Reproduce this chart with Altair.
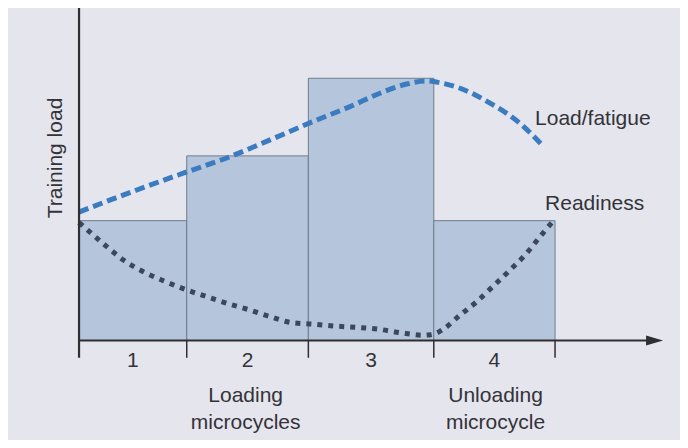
import altair as alt
import pandas as pd

# ---- data (x in microcycle units, y in relative training-load units) ----
categories = ["1", "2", "3", "4"]
bar_left = [0.0, 0.905, 1.927, 2.981]
bar_right = [0.905, 1.927, 2.981, 4.0]
bar_height = [45.7, 70.4, 100.0, 45.7]

load_x = [0.0, 0.485, 0.876, 1.269, 1.605, 1.998, 2.277, 2.529, 2.754, 2.908,
          3.034, 3.202, 3.454, 3.706, 3.899]
load_y = [49.0, 57.4, 63.8, 70.1, 76.5, 84.1, 89.2, 94.3, 97.8, 99.0,
          98.3, 96.2, 90.5, 82.8, 74.2]

ready_x = [0.0, 0.233, 0.372, 0.540, 0.708, 0.891, 1.073, 1.241, 1.437, 1.605,
           1.787, 1.969, 2.151, 2.334, 2.515, 2.697, 2.893, 2.983, 3.061, 3.202,
           3.342, 3.482, 3.622, 3.748, 3.874, 3.972]
ready_y = [45.0, 35.8, 30.7, 26.2, 22.8, 19.5, 16.7, 14.2, 11.6, 9.1,
           6.8, 6.2, 5.5, 5.0, 4.3, 3.0, 2.0, 2.5, 4.3, 9.7,
           14.8, 20.8, 26.9, 32.6, 39.6, 44.9]

series_labels = ["Load/fatigue", "Readiness"]
axis_title = "Training load"
group_labels = [["Loading", "microcycles"], ["Unloading", "microcycle"]]

# ---- styling ----
BG = "#e5e5ed"
BAR_FILL = "#b4c5dc"
BAR_STROKE = "#6f7c8c"
LOAD_COLOR = "#3b7cc0"
READY_COLOR = "#3c475c"
AXIS_COLOR = "#2e2e33"
TEXT_COLOR = "#333338"
FONT = "Liberation Sans"
FS = 21

XS = alt.Scale(domain=[-0.597, 5.05], nice=False, zero=False)
YS = alt.Scale(domain=[-37.95, 126.8], nice=False, zero=False)


def X(f):
    return alt.X(f, type="quantitative", scale=XS, axis=None)


def Y(f):
    return alt.Y(f, type="quantitative", scale=YS, axis=None)


bars_df = pd.DataFrame({"cat": categories, "x0": bar_left, "x1": bar_right,
                        "h": bar_height, "base": [0.0] * 4, "ly": [-10.1] * 4})
bars_df["mid"] = (bars_df["x0"] + bars_df["x1"]) / 2

load_df = pd.DataFrame({"x": load_x, "y": load_y})
ready_df = pd.DataFrame({"x": ready_x, "y": ready_y})

bars = alt.Chart(bars_df).mark_rect(fill=BAR_FILL, stroke=BAR_STROKE, strokeWidth=1).encode(
    x=X("x0"), x2="x1", y=Y("base"), y2="h")

load = alt.Chart(load_df).mark_line(color=LOAD_COLOR, strokeWidth=5, strokeDash=[10, 5],
                                    interpolate="monotone").encode(x=X("x"), y=Y("y"))
ready = alt.Chart(ready_df).mark_line(color=READY_COLOR, strokeWidth=5, strokeDash=[5, 6],
                                      interpolate="monotone").encode(x=X("x"), y=Y("y"))

axis_df = pd.DataFrame({"x0": [0.0, 0.0], "x1": [0.0, 4.80], "y0": [-6.6, 0.0], "y1": [126.8, 0.0]})
axes = alt.Chart(axis_df).mark_rule(color=AXIS_COLOR, strokeWidth=2.2).encode(
    x=X("x0"), x2="x1", y=Y("y0"), y2="y1")

tick_df = pd.DataFrame({"x": bar_right, "y0": [0.0] * 4, "y1": [-6.6] * 4})
ticks = alt.Chart(tick_df).mark_rule(color=AXIS_COLOR, strokeWidth=1.5).encode(
    x=X("x"), y=Y("y0"), y2="y1")

arrow = alt.Chart(pd.DataFrame({"x": [4.836], "y": [0.0]})).mark_point(
    shape="M -1 -0.59 L 1 0 L -1 0.59 Z", size=289, filled=True, color=AXIS_COLOR, opacity=1
).encode(x=X("x"), y=Y("y"))

tick_labels = alt.Chart(bars_df).mark_text(font=FONT, fontSize=FS, color=TEXT_COLOR,
                                           align="center", baseline="alphabetic").encode(
    x=X("mid"), y=Y("ly"), text="cat:N")

grp_df = pd.DataFrame({"x": [1.40, 1.40, 3.50, 3.50], "y": [-23.6, -33.75, -23.6, -33.75],
                       "t": [group_labels[0][0], group_labels[0][1], group_labels[1][0], group_labels[1][1]]})
grp = alt.Chart(grp_df).mark_text(font=FONT, fontSize=FS, color=TEXT_COLOR,
                                  align="center", baseline="alphabetic").encode(
    x=X("x"), y=Y("y"), text="t:N")

ser_df = pd.DataFrame({"x": [3.832, 3.916], "y": [82.2, 49.8], "t": series_labels})
ser = alt.Chart(ser_df).mark_text(font=FONT, fontSize=FS, color=TEXT_COLOR,
                                  align="left", baseline="alphabetic").encode(
    x=X("x"), y=Y("y"), text="t:N")

ytitle = alt.Chart(pd.DataFrame({"x": [-0.193], "y": [69.6], "t": [axis_title]})).mark_text(
    font=FONT, fontSize=FS, color=TEXT_COLOR, angle=270, align="center", baseline="middle"
).encode(x=X("x"), y=Y("y"), text="t:N")

chart = alt.layer(bars, load, ready, axes, ticks, arrow, tick_labels, grp, ser, ytitle).properties(
    width=672, height=432, background=BG, padding=0,
    autosize=alt.AutoSizeParams(type="none"),
).configure_view(stroke=None)

chart.save("out.html", embed_options={"renderer": "svg", "actions": False})
